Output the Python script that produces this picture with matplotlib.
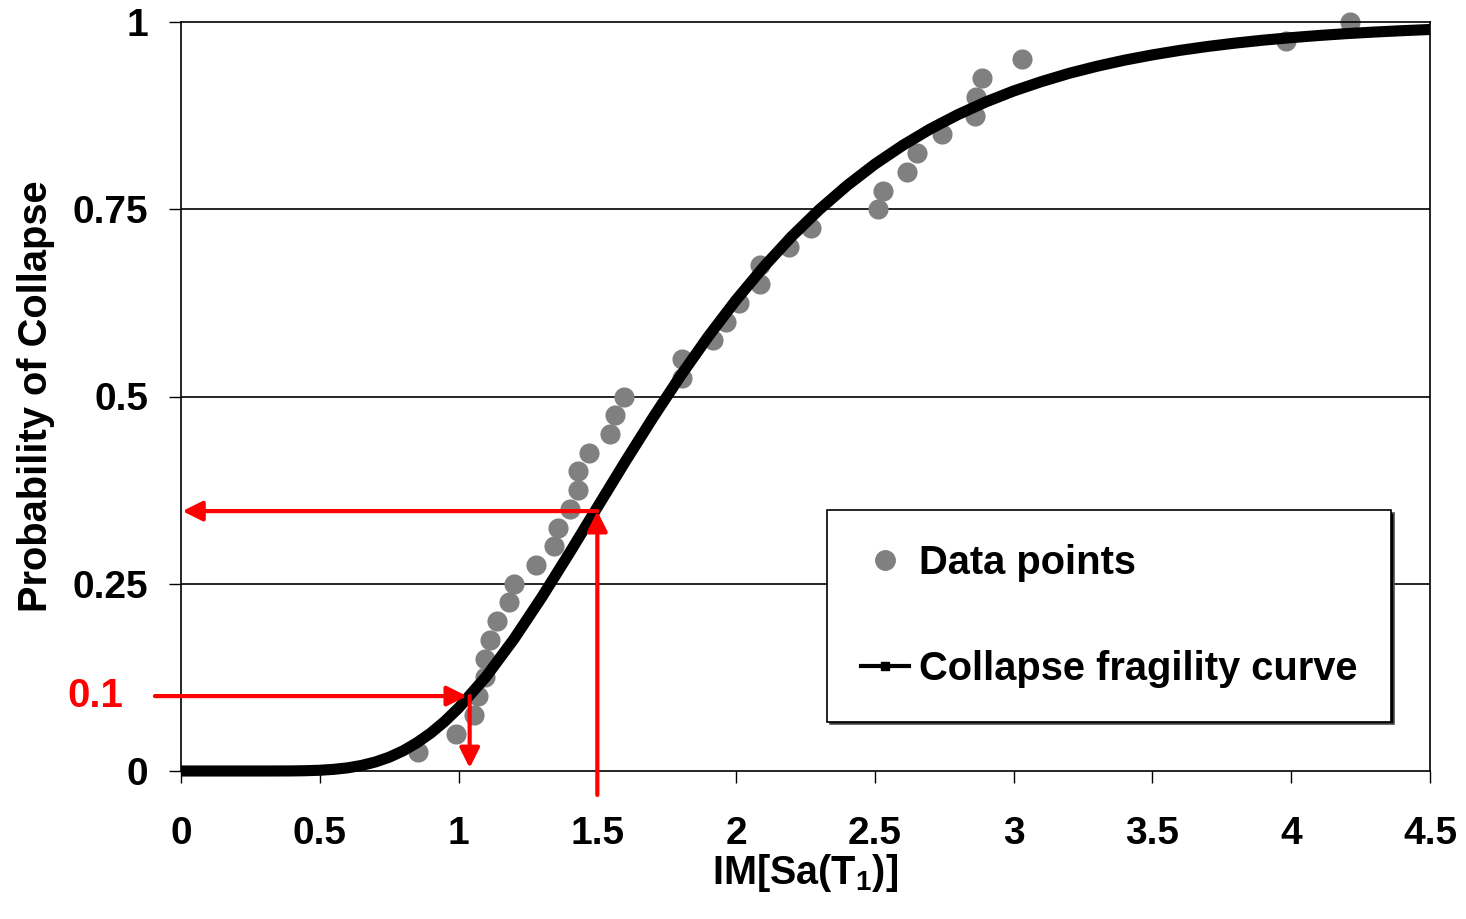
import numpy as np
import matplotlib.pyplot as plt
from matplotlib.lines import Line2D

plt.rcParams['font.family'] = ['Liberation Sans', 'DejaVu Sans']
plt.rcParams['font.weight'] = 'bold'
plt.rcParams['mathtext.fontset'] = 'custom'
plt.rcParams['mathtext.rm'] = 'Liberation Sans:bold'
plt.rcParams['mathtext.bf'] = 'Liberation Sans:bold'

# data points: IM at collapse vs. empirical probability (steps of 1/40)
im_points = [0.855, 0.99, 1.055, 1.07, 1.095, 1.095, 1.115, 1.14, 1.18, 1.20,
             1.28, 1.345, 1.36, 1.40, 1.43, 1.43, 1.47, 1.545, 1.565, 1.595,
             1.805, 1.805, 1.915, 1.965, 2.01, 2.085, 2.085, 2.19, 2.27, 2.51,
             2.53, 2.615, 2.65, 2.74, 2.86, 2.865, 2.885, 3.03, 3.98, 4.21]
p_points = [0.025, 0.05, 0.075, 0.1, 0.125, 0.15, 0.175, 0.2, 0.225, 0.25,
            0.275, 0.3, 0.325, 0.35, 0.375, 0.4, 0.425, 0.45, 0.475, 0.5,
            0.525, 0.55, 0.575, 0.6, 0.625, 0.65, 0.675, 0.7, 0.725, 0.75,
            0.775, 0.8, 0.825, 0.85, 0.875, 0.9, 0.925, 0.95, 0.975, 1.0]

# fragility curve
im_curve = [0.0, 0.1, 0.2, 0.3, 0.4, 0.45, 0.5, 0.55, 0.6, 0.65, 0.7, 0.75,
            0.8, 0.85, 0.9, 0.95, 1.0, 1.1, 1.2, 1.3, 1.4, 1.5, 1.6, 1.7,
            1.8, 1.9, 2.0, 2.1, 2.2, 2.3, 2.4, 2.5, 2.6, 2.7, 2.8, 2.9, 3.0,
            3.1, 3.2, 3.3, 3.4, 3.5, 3.6, 3.7, 3.8, 3.9, 4.0, 4.1, 4.2, 4.3,
            4.4, 4.5]
p_curve = [0.0, 0.0, 0.0, 0.0, 0.0001, 0.0004, 0.001, 0.0022, 0.0042, 0.0074,
           0.012, 0.0184, 0.0269, 0.0377, 0.0507, 0.0662, 0.0841, 0.1264,
           0.1764, 0.2321, 0.2913, 0.3521, 0.4127, 0.4715, 0.5277, 0.5803,
           0.6289, 0.6733, 0.7136, 0.7496, 0.7817, 0.8102, 0.8352, 0.8573,
           0.8765, 0.8933, 0.9079, 0.9204, 0.9315, 0.9409, 0.9491, 0.9561,
           0.9622, 0.9674, 0.9719, 0.9758, 0.9791, 0.982, 0.9845, 0.9866,
           0.9884, 0.99]

# annotation values
p_target = 0.1
im_at_target = 1.04
im_query = 1.5
p_at_query = 0.347

x_ticks = [0, 0.5, 1, 1.5, 2, 2.5, 3, 3.5, 4, 4.5]
x_ticklabels = ['0', '0.5', '1', '1.5', '2', '2.5', '3', '3.5', '4', '4.5']
y_ticks = [0, 0.25, 0.5, 0.75, 1]
y_ticklabels = ['0', '0.25', '0.5', '0.75', '1']

fig = plt.figure(figsize=(14.66, 9.19), dpi=100)
ax = fig.add_axes([181 / 1466, 1 - 771 / 919, (1430 - 181) / 1466, (771 - 22) / 919])

ax.set_xlim(0, 4.5)
ax.set_ylim(0, 1)
for y in [0.25, 0.5, 0.75]:
    ax.axhline(y, color='black', lw=1.2, zorder=1)

ax.plot(im_curve, p_curve, color='black', lw=8, solid_capstyle='butt',
        solid_joinstyle='round', zorder=3, clip_on=False)
ax.scatter(im_points, p_points, s=210, color='#808080', zorder=2,
           linewidths=0, clip_on=False)

red = '#ff0000'
arrow = dict(arrowstyle='-|>', color=red, lw=3, mutation_scale=30,
             shrinkA=0, shrinkB=0)
ax.annotate('', xy=(im_at_target - 0.01, p_target), xytext=(-0.094, p_target),
            arrowprops=arrow, annotation_clip=False, zorder=5)
ax.annotate('', xy=(im_at_target, 0.004), xytext=(im_at_target, p_target),
            arrowprops=arrow, annotation_clip=False, zorder=5)
ax.annotate('', xy=(im_query, p_at_query), xytext=(im_query, -0.032),
            arrowprops=arrow, annotation_clip=False, zorder=5)
ax.annotate('', xy=(0.005, p_at_query), xytext=(im_query, p_at_query),
            arrowprops=arrow, annotation_clip=False, zorder=5)
ax.text(-0.31, p_target, '0.1', color=red, fontsize=29, fontweight='bold',
        ha='center', va='center')

ax.set_xticks(x_ticks)
ax.set_xticklabels(x_ticklabels)
ax.set_yticks(y_ticks)
ax.set_yticklabels(y_ticklabels)
ax.tick_params(axis='x', direction='out', length=8.5, width=1, pad=24, labelsize=28)
ax.tick_params(axis='y', direction='out', length=8.5, width=1, pad=15, labelsize=28)
for s in ax.spines.values():
    s.set_linewidth(1.2)

ax.set_xlabel('IM[Sa(T$_1$)]', fontsize=28.5, fontweight='bold', labelpad=0)
ax.set_ylabel('Probability of Collapse', fontsize=28.7, fontweight='bold', labelpad=13)

handles = [
    Line2D([], [], ls='none', marker='o', color='#808080', markersize=14),
    Line2D([], [], color='black', lw=3, marker='s', markersize=6),
]
leg = fig.legend(handles, ['Data points', 'Collapse fragility curve'],
                 loc='upper left', bbox_to_anchor=(827 / 1466, 1 - 510 / 919),
                 fontsize=28.7, frameon=True, fancybox=False,
                 shadow={'facecolor': 'black', 'alpha': 1},
                 edgecolor='black', framealpha=1, borderpad=0.85,
                 labelspacing=1.7, handlelength=1.2, handletextpad=0.25,
                 borderaxespad=0)
leg.get_frame().set_linewidth(1.2)
for t in leg.get_texts():
    t.set_fontweight('bold')

fig.savefig('out.png', dpi=100)
